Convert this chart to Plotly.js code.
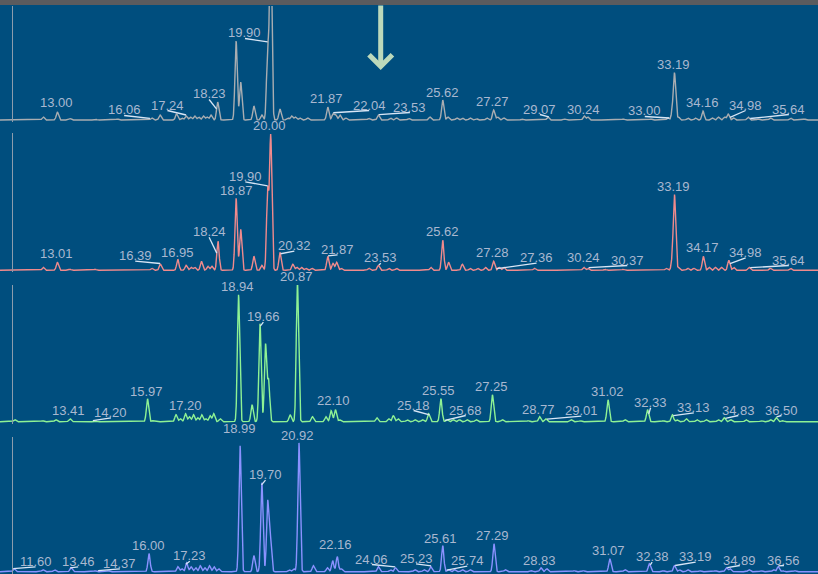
<!DOCTYPE html>
<html>
<head>
<meta charset="utf-8">
<script src="https://cdn.plot.ly/plotly-3.0.1.min.js"></script>
<style>
  html, body { margin: 0; padding: 0; background: #004e7e; overflow: hidden; }
  #chart { width: 818px; height: 574px; }
</style>
</head>
<body>
<div id="chart"></div>
<script>
// ---- Chromatogram peak tables (retention time in min, peak height) ----
const run1Times = [12.58, 13.04, 13.45, 14.27, 15.0, 16.12, 16.39, 16.93, 17.10, 17.24, 17.38, 17.52, 17.65, 17.80, 17.92, 18.05,
  18.27, 18.87, 19.02, 19.45, 19.71, 19.90, 20.00, 20.30, 20.55, 20.68, 20.80, 20.95, 21.20, 21.86, 22.03, 22.12, 22.26, 22.45,
  23.20, 23.51, 23.90, 24.10, 24.50, 25.19, 25.61, 25.78, 26.07, 26.25, 26.50, 26.70, 27.05, 27.27, 27.40, 27.60, 28.20, 29.04,
  29.60, 30.22, 30.34, 31.5, 32.4, 32.95, 33.10, 33.17, 33.30, 33.60, 33.85, 34.10, 34.40, 34.60, 34.80, 34.92, 35.10, 35.57,
  35.90, 36.30, 36.95, 37.4];
const run1Heights = [3, 8, 1.5, 1, 1, 2, 5, 6, 2, 4, 3, 4, 3, 4, 3, 5,
  18, 79, 38, 14, 5, 72, 200, 11, 2, 4, 3, 2, 2, 13, 6, 5, 5, 2,
  1.5, 5, 2, 2, 1.5, 3, 20, 3, 2, 2, 2, 1.5, 2, 10, 3, 2, 1, 3,
  1, 4, 3, 1, 1, 2, 8, 46, 3, 2, 2, 9, 2, 3, 3, 6, 2, 3,
  1, 2, 2, 1];

const run2Times = [12.58, 13.04, 13.45, 14.27, 16.12, 16.40, 16.97, 17.24, 17.40, 17.52, 17.74, 17.95, 18.08, 18.28, 18.87, 19.02,
  19.45, 19.71, 19.90, 20.00, 20.30, 20.72, 20.85, 21.00, 21.15, 21.35, 21.86, 22.03, 22.15, 22.30, 23.20, 23.51, 23.85, 24.10,
  25.22, 25.61, 25.80, 26.25, 26.50, 26.75, 27.00, 27.27, 27.45, 27.60, 28.60, 30.21, 30.35, 30.90, 31.50, 32.90, 33.10, 33.17,
  33.30, 33.60, 33.80, 34.11, 34.30, 34.50, 34.70, 34.94, 35.10, 35.60, 36.30, 36.95];
const run2Heights = [3, 8, 1, 1, 2, 6, 11, 5, 3, 3, 9, 4, 4, 29, 72, 41,
  14, 5, 80, 134, 18, 6, 3, 3, 2, 2, 14, 7, 8, 2, 2, 5, 2, 2,
  3, 30, 8, 6, 2, 2, 3, 9, 3, 3, 2, 3, 2, 1, 1, 2, 10, 74,
  3, 2, 2, 14, 3, 3, 3, 10, 3, 3, 2, 2];

const run3Times = [11.65, 12.56, 12.99, 13.45, 14.27, 15.98, 16.15, 16.91, 17.05, 17.22, 17.35, 17.48, 17.62, 17.75, 17.88, 18.02,
  18.14, 18.35, 18.95, 19.39, 19.65, 19.83, 19.93, 20.63, 20.87, 21.36, 21.80, 21.97, 22.11, 22.25, 23.46, 23.85, 24.00, 24.15,
  24.45, 24.70, 24.95, 25.15, 25.55, 25.75, 25.95, 26.15, 26.40, 26.70, 27.23, 27.55, 28.40, 28.77, 28.97, 29.80, 30.10, 31.00,
  31.55, 32.29, 32.80, 33.10, 33.25, 33.55, 33.90, 34.20, 34.60, 34.79, 35.00, 35.50, 36.00, 36.30, 36.49, 36.70];
const run3Heights = [2, 1, 2, 3, 1, 23, 1, 7, 3, 8, 5, 7, 4, 7, 3, 6,
  8, 3, 127, 17, 98, 77, 41, 7, 140, 5, 5, 11, 12, 2, 4, 3, 6, 3,
  2, 2, 2, 8, 23, 2, 2, 2, 2, 2, 27, 2, 1, 5, 3, 2, 1, 22,
  2, 12, 1, 7, 2, 3, 2, 2, 2, 4, 2, 2, 1, 2, 4, 1];

const run4Times = [11.63, 12.57, 12.95, 13.49, 14.27, 14.70, 16.03, 16.97, 17.10, 17.26, 17.40, 17.55, 17.70, 17.85, 18.00, 18.15,
  18.30, 19.00, 19.45, 19.71, 19.90, 19.99, 20.60, 20.75, 20.92, 21.39, 21.85, 22.02, 22.17, 22.30, 23.51, 23.90, 24.07, 24.70,
  25.00, 25.22, 25.61, 25.80, 26.00, 26.25, 26.50, 27.28, 27.65, 28.50, 28.81, 29.00, 29.90, 30.20, 31.06, 31.55, 32.35, 32.80,
  33.17, 33.33, 33.60, 34.00, 34.50, 34.86, 34.98, 35.60, 36.00, 36.40, 36.55, 36.70, 37.10];
const run4Heights = [3, 2, 2, 4, 1, 1, 18, 5, 3, 9, 5, 4, 6, 4, 6, 5,
  3, 126, 16, 89, 70, 33, 2, 3, 129, 6, 4, 11, 15, 3, 5, 2, 4, 2,
  2, 5, 26, 2, 2, 2, 2, 28, 2, 1, 4, 3, 1, 1, 13, 2, 8, 1,
  6, 2, 2, 1, 1, 4, 3, 2, 1, 2, 5, 1, 1];

// ---- Peak labels (text = retention time) ----
const run1LabelText = ['13.00', '16.06', '17.24', '18.23', '19.90', '21.87', '22.04', '23.53', '25.62', '27.27', '29.07',
  '30.24', '33.00', '33.19', '34.16', '34.98', '35.64'];
const run2LabelText = ['13.01', '16.39', '16.95', '18.24', '18.87', '19.90', '20.00', '20.32', '21.87', '23.53', '25.62',
  '27.28', '27.36', '30.24', '30.37', '33.19', '34.17', '34.98', '35.64'];
const run3LabelText = ['13.41', '14.20', '15.97', '17.20', '18.94', '19.66', '20.87', '22.10', '25.18', '25.55', '25.68',
  '27.25', '28.77', '29.01', '31.02', '32.33', '33.13', '34.83', '36.50'];
const run4LabelText = ['11.60', '13.46', '14.37', '16.00', '17.23', '18.99', '19.70', '20.92', '22.16', '24.06', '25.23',
  '25.61', '25.74', '27.29', '28.83', '31.07', '32.38', '33.19', '34.89', '36.56'];

// label placement (centre time, height above baseline) and whether a leader line joins it to its peak
const run1LabelPos = {
  t: [13.00, 15.22, 16.63, 17.99, 19.16, 21.82, 23.21, 24.54, 25.59, 27.23, 28.78, 30.19, 32.20, 33.15, 34.09, 35.49, 36.90],
  h: [17, 10, 15, 26, 87, 22, 15, 13, 28, 18, 11, 11, 9, 55, 17, 15, 11],
  leader: [0, 1, 1, 1, 1, 0, 1, 1, 0, 0, 1, 0, 1, 0, 0, 1, 1]
};
const run2LabelPos = {
  t: [13.01, 15.58, 16.95, 17.99, 18.88, 19.17, 19.97, 20.77, 22.18, 23.59, 25.59, 27.23, 28.67, 30.19, 31.63, 33.15, 34.09, 35.49, 36.90],
  h: [17, 14.6, 18, 38.6, 80, 94, 144.6, 24.6, 21, 12.6, 38.6, 17.6, 12.6, 12.6, 10.3, 84.3, 23, 18, 10.3],
  leader: [0, 1, 0, 1, 0, 1, 0, 1, 1, 1, 0, 0, 1, 0, 1, 0, 0, 1, 1]
};
const run3LabelPos = {
  t: [13.41, 14.79, 15.96, 17.22, 18.93, 19.76, 20.84, 22.06, 24.66, 25.48, 26.36, 27.20, 28.72, 30.13, 30.98, 32.39, 33.80, 35.25, 36.66],
  h: [11.7, 9.4, 30.7, 16.7, 135, 105, 145, 21.7, 16.7, 31, 11.7, 35, 12.4, 11, 30, 19.4, 14.4, 11.7, 11.7],
  leader: [0, 1, 0, 0, 0, 1, 0, 0, 1, 0, 1, 0, 0, 1, 0, 1, 1, 1, 1]
};
const run4LabelPos = {
  t: [12.33, 13.72, 15.08, 16.02, 17.36, 18.99, 19.83, 20.87, 22.12, 23.30, 24.74, 25.54, 26.41, 27.23, 28.78, 31.01, 32.44, 33.86, 35.30, 36.74],
  h: [10.4, 10.4, 8.4, 26, 16, 143.7, 97, 136.7, 27.7, 12.7, 13.4, 33.4, 11, 36.7, 11, 21, 15, 15, 11.7, 11.7],
  leader: [1, 1, 1, 0, 1, 0, 1, 0, 0, 1, 1, 0, 1, 0, 0, 0, 1, 1, 1, 1]
};

// ---- Drawing ----
const W = 818, H = 574;
const RT_RANGE = [11.17, 37.85];
const PEAK_SIGMA = 0.037;
const STEP = 0.004;
const BG = '#004e7e';
const LABEL_COLOR = '#a9b8d0';
const LEADER_COLOR = '#d8e6f6';

// baseline / top of each strip in page pixels
const strips = [
  { base: 120.0, top: 6.0,   color: '#a9adb1', times: run1Times, heights: run1Heights, text: run1LabelText, pos: run1LabelPos },
  { base: 270.3, top: 133.0, color: '#f08a8c', times: run2Times, heights: run2Heights, text: run2LabelText, pos: run2LabelPos },
  { base: 421.7, top: 285.0, color: '#8ef294', times: run3Times, heights: run3Heights, text: run3LabelText, pos: run3LabelPos },
  { base: 571.7, top: 436.5, color: '#8a92ff', times: run4Times, heights: run4Heights, text: run4LabelText, pos: run4LabelPos }
];

function signal(times, heights, t) {
  let s = 0;
  for (let i = 0; i < times.length; i++) {
    const d = (t - times[i]) / PEAK_SIGMA;
    if (d > -6 && d < 6) s += heights[i] * Math.exp(-0.5 * d * d);
  }
  return s;
}

const traces = [];
const annotations = [];
const layout = {
  width: W, height: H,
  margin: { l: 0, r: 0, t: 0, b: 0, pad: 0 },
  paper_bgcolor: BG, plot_bgcolor: BG,
  showlegend: false,
  xaxis: { range: RT_RANGE, domain: [0, 1], visible: false, fixedrange: true },
  shapes: [],
  annotations: annotations
};

strips.forEach((s, k) => {
  const yName = k === 0 ? 'y' : 'y' + (k + 1);
  const axKey = k === 0 ? 'yaxis' : 'yaxis' + (k + 1);
  layout[axKey] = {
    domain: [(H - (s.base + 2)) / H, (H - s.top) / H],
    range: [-2, s.base - s.top],
    anchor: 'free', position: 12 / W,
    showline: true, linecolor: '#8c9cac', linewidth: 1,
    showgrid: false, zeroline: false, showticklabels: false, ticks: '',
    fixedrange: true
  };

  // chromatogram trace
  const xs = [], ys = [];
  for (let t = RT_RANGE[0]; t <= RT_RANGE[1] + 1e-9; t += STEP) {
    xs.push(t);
    ys.push(signal(s.times, s.heights, t));
  }
  traces.push({
    type: 'scatter', mode: 'lines', x: xs, y: ys, xaxis: 'x', yaxis: yName,
    line: { color: s.color, width: 1.4 }, hoverinfo: 'skip'
  });

  // leader lines from each peak to the underside of its label
  const lx = [], ly = [];
  s.text.forEach((txt, i) => {
    if (!s.pos.leader[i]) return;
    const rt = parseFloat(txt);
    lx.push(rt, s.pos.t[i], null);
    ly.push(signal(s.times, s.heights, rt) + 1, s.pos.h[i] - 5.5, null);
  });
  traces.push({
    type: 'scatter', mode: 'lines', x: lx, y: ly, xaxis: 'x', yaxis: yName,
    line: { color: LEADER_COLOR, width: 1.3 }, hoverinfo: 'skip', cliponaxis: false
  });

  // peak labels; vertical placement in page units so labels above a strip's top still show
  s.text.forEach((txt, i) => {
    annotations.push({
      text: txt, x: s.pos.t[i], xref: 'x',
      y: (H - (s.base - s.pos.h[i])) / H, yref: 'paper',
      showarrow: false, xanchor: 'center', yanchor: 'middle',
      font: { family: 'Liberation Sans, Arial, sans-serif', size: 13, color: LABEL_COLOR }
    });
  });
});

// title bar strip along the top edge
layout.shapes.push({
  type: 'rect', xref: 'paper', yref: 'paper', x0: 0, x1: 1, y0: (H - 5) / H, y1: 1,
  fillcolor: '#5b5b5e', line: { width: 0 }, layer: 'above'
});

// marker arrow pointing down into the top run
annotations.push({
  text: '', xref: 'paper', yref: 'paper', x: 380.7 / W, y: (H - 70) / H,
  showarrow: true, ax: 0, ay: -66, arrowhead: 4, arrowsize: 0.9, arrowwidth: 5,
  arrowcolor: '#bcd9bb', standoff: 0
});

Plotly.newPlot('chart', traces, layout, { staticPlot: true, displayModeBar: false });
</script>
</body>
</html>
